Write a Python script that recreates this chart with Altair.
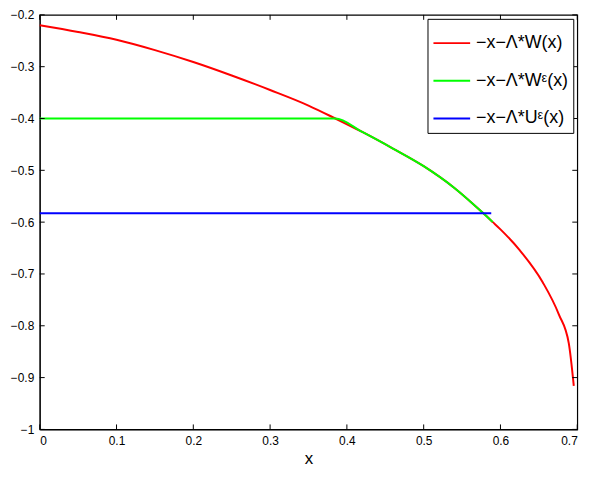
import altair as alt
import pandas as pd

# ---- data ----
red_x = [0, 0.05, 0.1, 0.15, 0.2, 0.25, 0.3, 0.35, 0.385, 0.42, 0.46, 0.5, 0.54,
         0.577, 0.59, 0.6, 0.625, 0.655, 0.676, 0.689, 0.6955]
red_y = [-0.220, -0.233, -0.248, -0.268, -0.291, -0.317, -0.345, -0.375, -0.400,
         -0.426, -0.458, -0.492, -0.534, -0.582, -0.600, -0.614, -0.654, -0.716,
         -0.778, -0.834, -0.916]
green_x = [0, 0.385, 0.42, 0.46, 0.5, 0.54, 0.577, 0.59]
green_y = [-0.400, -0.400, -0.426, -0.458, -0.492, -0.534, -0.582, -0.600]
blue_x = [0, 0.588]
blue_y = [-0.583, -0.583]

labels = ["−x−Λ*W(x)", "−x−Λ*Wᵋ(x)", "−x−Λ*Uᵋ(x)"]
colors = ["#ff0000", "#00ff00", "#0000ff"]

x_ticks = [0, 0.1, 0.2, 0.3, 0.4, 0.5, 0.6, 0.7]
y_ticks = [-1, -0.9, -0.8, -0.7, -0.6, -0.5, -0.4, -0.3, -0.2]

W, H = 542, 418
FONT = "Liberation Sans"

rows = []
for lab, xs, ys in zip(labels, [red_x, green_x, blue_x], [red_y, green_y, blue_y]):
    for i, (a, b) in enumerate(zip(xs, ys)):
        rows.append({"x": a, "y": b, "series": lab, "i": i})
df = pd.DataFrame(rows)

xscale = alt.Scale(domain=[0, 0.7], nice=False, zero=False)
yscale = alt.Scale(domain=[-1, -0.2], nice=False, zero=False)

xaxis = alt.Axis(values=x_ticks, format=".1~f", title="x", tickSize=0, grid=False,
                 labelFontSize=12, labelPadding=6, titleFontSize=17,
                 titleFontWeight="normal", titlePadding=4, domainColor="black",
                 labelColor="black", titleColor="black", labelFont=FONT, titleFont=FONT)
yaxis = alt.Axis(values=y_ticks, format=".1~f", title=None, tickSize=0, grid=False,
                 labelFontSize=12, labelPadding=6, domainColor="black",
                 labelColor="black", labelFont=FONT)

color = alt.Color("series:N", scale=alt.Scale(domain=labels, range=colors),
                  legend=alt.Legend(orient="top-right", offset=4, title=None,
                                    symbolType="stroke", symbolSize=1369,
                                    symbolStrokeWidth=2, labelFontSize=18,
                                    labelFont=FONT, labelColor="black",
                                    strokeColor="black", fillColor="white",
                                    padding=5, rowPadding=9, labelOffset=5,
                                    labelLimit=300))

X = alt.X("x:Q", scale=xscale, axis=xaxis)
Y = alt.Y("y:Q", scale=yscale, axis=yaxis)

layers = []
for k, lab in enumerate(labels):
    layers.append(
        alt.Chart(df).transform_filter(alt.datum.series == lab)
        .mark_line(strokeWidth=2, interpolate="monotone")
        .encode(x=X, y=Y, color=color, order="i:Q")
    )

xt = pd.DataFrame({"x": x_ticks})
yt = pd.DataFrame({"y": y_ticks})
tick_bottom = alt.Chart(xt).mark_rule(color="black", strokeWidth=1).encode(
    x=X, y=alt.value(H), y2=alt.value(H - 5))
tick_top = alt.Chart(xt).mark_rule(color="black", strokeWidth=1).encode(
    x=X, y=alt.value(0), y2=alt.value(5))
tick_left = alt.Chart(yt).mark_rule(color="black", strokeWidth=1).encode(
    y=Y, x=alt.value(0), x2=alt.value(5))
tick_right = alt.Chart(yt).mark_rule(color="black", strokeWidth=1).encode(
    y=Y, x=alt.value(W), x2=alt.value(W - 5))

chart = alt.layer(*layers, tick_bottom, tick_top, tick_left, tick_right).properties(
    width=W, height=H,
    padding={"left": 32, "top": 5, "right": 30, "bottom": 38},
    autosize=alt.AutoSizeParams(type="none"),
    background="white",
).configure_view(stroke="black", strokeWidth=1.2)

chart.save("out.html", embed_options={"renderer": "svg", "actions": False})
